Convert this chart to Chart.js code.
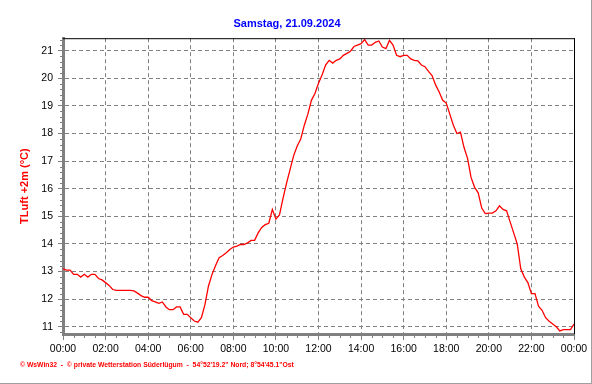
<!DOCTYPE html>
<html>
<head>
<meta charset="utf-8">
<script src="https://cdn.jsdelivr.net/npm/chart.js@4/dist/chart.umd.min.js"></script>
<style>
html,body{margin:0;padding:0;background:#fff;}
#wrap{width:592px;height:384px;position:relative;}
canvas{display:block;}
</style>
</head>
<body>
<div id="wrap"><canvas id="c" width="592" height="384"></canvas></div>
<script>
const chartTitle = 'Samstag, 21.09.2024';
const yAxisTitle = 'TLuft +2m (°C)';
const footerText = '\u00A9 WsWin32  -  \u00A9 private Wetterstation S\u00FCderl\u00FCgum  -  54\u00B052\'19.2" Nord; 8\u00B054\'45.1"Ost';

const times = [
 '00:00','00:10','00:20','00:30','00:40','00:50','01:00','01:10','01:20','01:30','01:40','01:50',
 '02:00','02:10','02:20','02:30','02:40','02:50','03:00','03:10','03:20','03:30','03:40','03:50',
 '04:00','04:10','04:20','04:30','04:40','04:50','05:00','05:10','05:20','05:30','05:40','05:50',
 '06:00','06:10','06:20','06:30','06:40','06:50','07:00','07:10','07:20','07:30','07:40','07:50',
 '08:00','08:10','08:20','08:30','08:40','08:50','09:00','09:10','09:20','09:30','09:40','09:50',
 '10:00','10:10','10:20','10:30','10:40','10:50','11:00','11:10','11:20','11:30','11:40','11:50',
 '12:00','12:10','12:20','12:30','12:40','12:50','13:00','13:10','13:20','13:30','13:40','13:50',
 '14:00','14:10','14:20','14:30','14:40','14:50','15:00','15:10','15:20','15:30','15:40','15:50',
 '16:00','16:10','16:20','16:30','16:40','16:50','17:00','17:10','17:20','17:30','17:40','17:50',
 '18:00','18:10','18:20','18:30','18:40','18:50','19:00','19:10','19:20','19:30','19:40','19:50',
 '20:00','20:10','20:20','20:30','20:40','20:50','21:00','21:10','21:20','21:30','21:40','21:50',
 '22:00','22:10','22:20','22:30','22:40','22:50','23:00','23:10','23:20','23:30','23:40','23:50',
 '24:00'
];

const temperature = [
 13.1,13.05,13.05,12.9,12.9,12.8,12.9,12.8,12.9,12.9,12.75,12.7,
 12.6,12.5,12.35,12.32,12.32,12.32,12.32,12.32,12.3,12.22,12.13,12.07,
 12.07,11.95,11.9,11.85,11.9,11.72,11.62,11.62,11.72,11.72,11.45,11.45,
 11.33,11.21,11.17,11.33,11.8,12.48,12.9,13.22,13.5,13.58,13.68,13.8,
 13.89,13.92,13.98,13.98,14.04,14.13,14.13,14.4,14.6,14.7,14.75,15.25,
 14.9,15.05,15.65,16.2,16.7,17.2,17.55,17.8,18.3,18.7,19.2,19.45,
 19.82,20.12,20.48,20.65,20.55,20.65,20.7,20.83,20.9,20.98,21.15,21.2,
 21.25,21.4,21.2,21.2,21.3,21.35,21.13,21.07,21.37,21.2,20.83,20.78,
 20.83,20.83,20.7,20.65,20.63,20.48,20.42,20.25,20.1,19.76,19.5,19.2,
 19.1,18.7,18.3,18.0,18.05,17.5,17.1,16.4,16.05,15.85,15.3,15.1,
 15.12,15.12,15.2,15.38,15.25,15.2,14.8,14.4,14.0,13.1,12.8,12.6,
 12.2,12.2,11.75,11.6,11.33,11.2,11.1,11.0,10.85,10.9,10.9,10.9,
 11.1
];

const xTickLabels = ['00:00','02:00','04:00','06:00','08:00','10:00','12:00','14:00','16:00','18:00','20:00','22:00','00:00'];
const yTickLabels = ['11','12','13','14','15','16','17','18','19','20','21'];

function toHours(s){ const p = s.split(':'); return Number(p[0]) + Number(p[1]) / 60; }
const points = times.map((t, i) => ({ x: toHours(t), y: temperature[i] }));

const FONT = "'Liberation Sans', Arial, sans-serif";

const decorPlugin = {
  id: 'decor',
  afterDraw(chart) {
    const ctx = chart.ctx;
    const a = chart.chartArea;
    const xs = chart.scales.x, ys = chart.scales.y;
    ctx.save();
    ctx.strokeStyle = '#000000';
    ctx.lineWidth = 1;
    ctx.beginPath();
    ctx.moveTo(a.left, a.top + 0.5); ctx.lineTo(a.right + 0.5, a.top + 0.5);
    ctx.moveTo(Math.round(a.right) + 0.5, a.top); ctx.lineTo(Math.round(a.right) + 0.5, a.bottom);
    ctx.stroke();
    ctx.strokeStyle = '#808080';
    ctx.beginPath();
    for (let h = 0.5; h < 24; h += 0.5) {
      if (Math.abs(h / 2 - Math.round(h / 2)) < 1e-6) continue;
      const px = Math.round(xs.getPixelForValue(h)) + 0.5;
      ctx.moveTo(px, a.bottom); ctx.lineTo(px, a.bottom + 4);
    }
    for (let v = 10.8; v < 21.45; v += 0.2) {
      if (Math.abs(v - Math.round(v)) < 1e-6) continue;
      const py = Math.round(ys.getPixelForValue(v)) + 0.5;
      ctx.moveTo(a.left - 3, py); ctx.lineTo(a.left, py);
    }
    ctx.stroke();
    ctx.strokeStyle = '#a0a0a0';
    ctx.beginPath();
    ctx.moveTo(591.5, 0); ctx.lineTo(591.5, 384);
    ctx.moveTo(0, 383.5); ctx.lineTo(592, 383.5);
    ctx.stroke();
    ctx.fillStyle = '#ff0000';
    ctx.font = "bold 6.8px " + FONT;
    ctx.textBaseline = 'middle';
    ctx.textAlign = 'left';
    ctx.fillText(footerText, 20, 365);
    ctx.restore();
  }
};

new Chart(document.getElementById('c'), {
  type: 'line',
  data: {
    datasets: [{
      data: points,
      borderColor: '#ff0000',
      borderWidth: 1.3,
      pointRadius: 0,
      stepped: false,
      fill: false,
      tension: 0
    }]
  },
  options: {
    responsive: false,
    animation: false,
    devicePixelRatio: 1,
    layout: { padding: { left: 0, right: 18, top: 0, bottom: 0 } },
    plugins: {
      legend: { display: false },
      tooltip: { enabled: false },
      title: {
        display: true,
        text: chartTitle,
        color: '#0000ff',
        font: { family: FONT, size: 11, weight: 'bold', lineHeight: 1.2 },
        padding: { top: 17, bottom: 8 }
      }
    },
    scales: {
      x: {
        type: 'linear',
        min: 0, max: 24,
        afterFit(s) { s.height = 50; },
        border: { display: true, color: '#808080', width: 3, dash: [4, 3] },
        grid: { color: '#808080', lineWidth: 1, drawTicks: true, tickLength: 6, tickColor: '#808080', tickWidth: 1, tickBorderDash: [] },
        ticks: {
          stepSize: 2, autoSkip: false, maxRotation: 0, padding: 3,
          color: '#000000', font: { family: FONT, size: 10.5 },
          callback: (v, i) => xTickLabels[i]
        }
      },
      y: {
        type: 'linear',
        min: 10.74, max: 21.45,
        afterFit(s) { s.width = 63; },
        border: { display: true, color: '#808080', width: 3, dash: [4, 3] },
        grid: { color: '#808080', lineWidth: 1, drawTicks: true, tickLength: 5, tickColor: '#808080', tickWidth: 1, tickBorderDash: [] },
        title: {
          display: true, text: yAxisTitle, color: '#ff0000',
          font: { family: FONT, size: 11, weight: 'bold', lineHeight: 1.2 },
          padding: { top: 18, bottom: 0 }
        },
        ticks: {
          stepSize: 1, includeBounds: false, padding: 5,
          color: '#000000', font: { family: FONT, size: 10.5 },
          callback: (v) => yTickLabels[Math.round(v) - 11]
        }
      }
    }
  },
  plugins: [decorPlugin]
});
</script>
</body>
</html>
